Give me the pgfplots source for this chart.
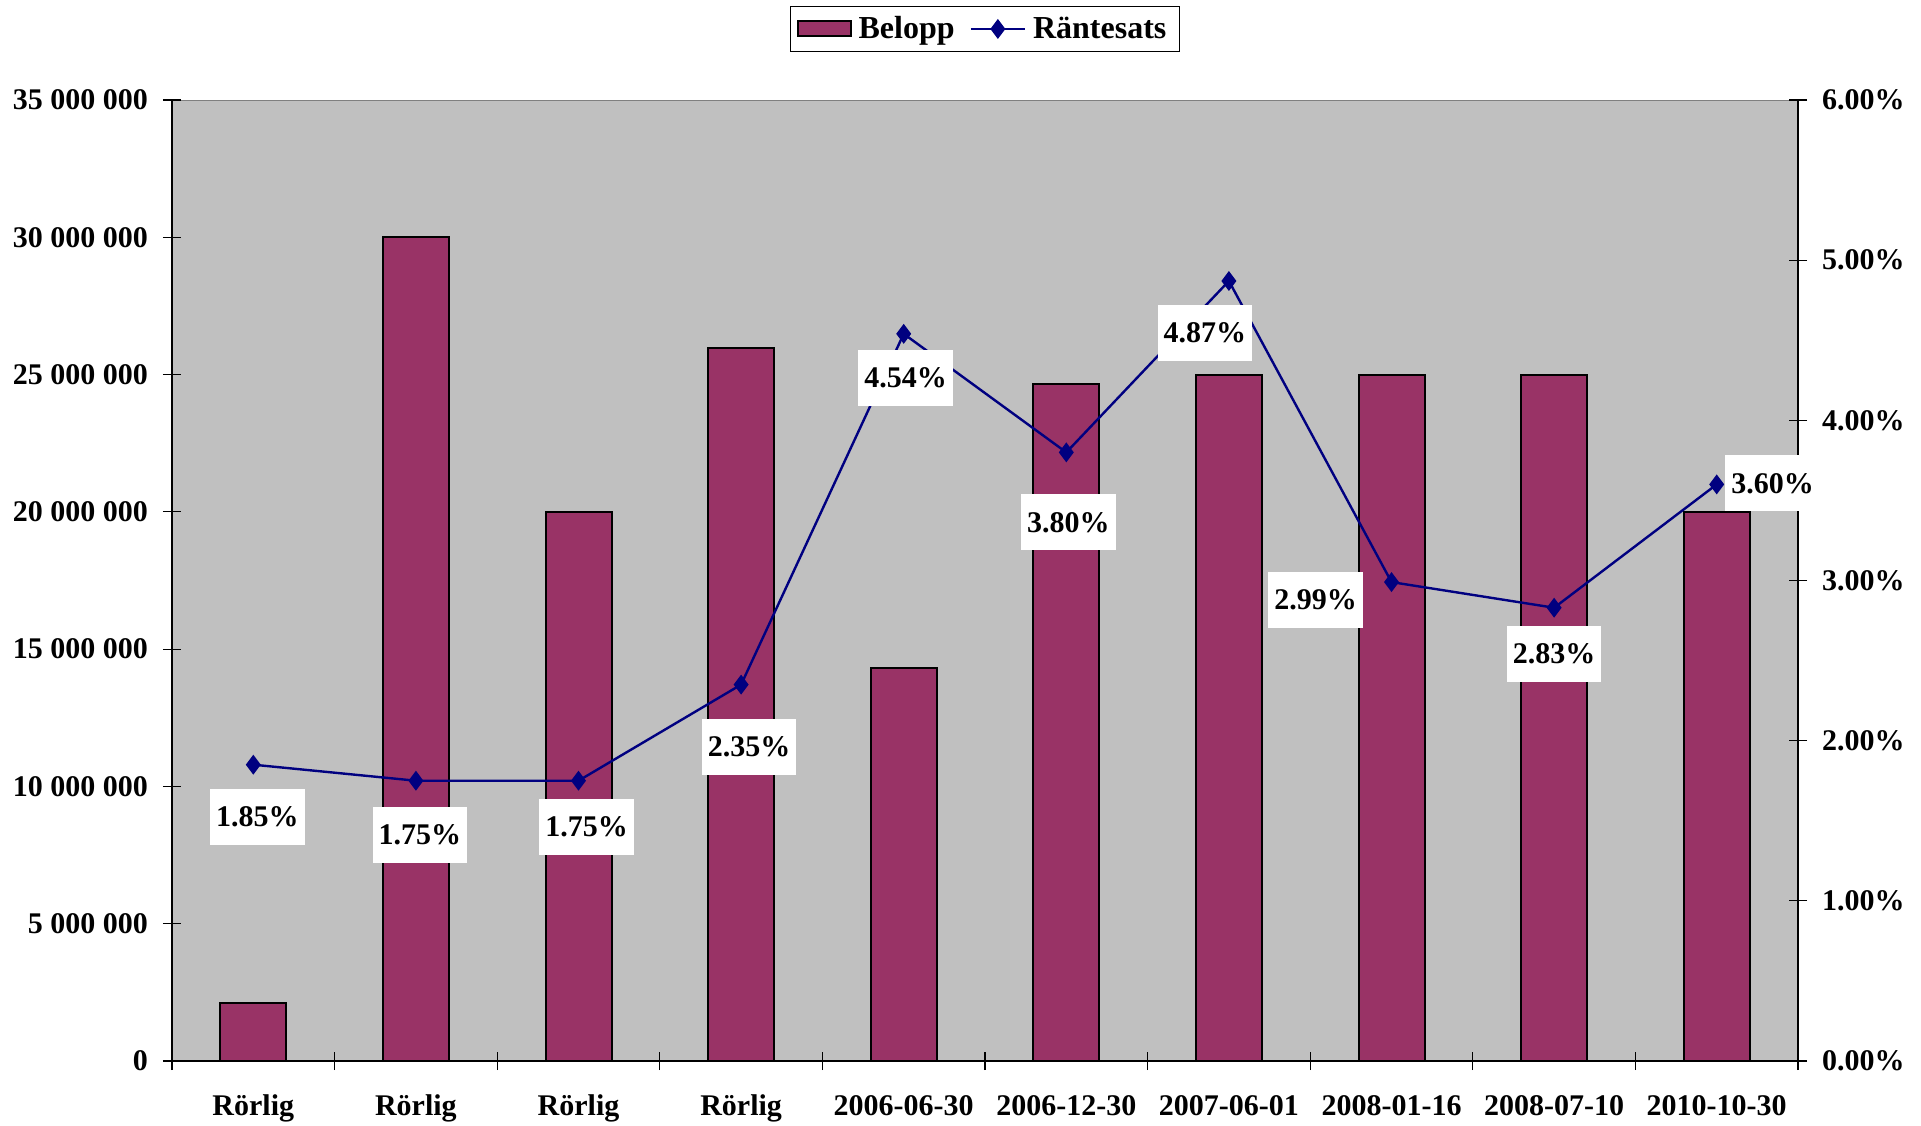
\documentclass[border=0pt]{standalone}
\usepackage{fontspec}
\setmainfont{Liberation Serif}
\usepackage{pgfplots}
\usepackage{pgfplotstable}
\pgfplotsset{compat=1.18}
\definecolor{plum}{HTML}{993366}
\definecolor{navyb}{HTML}{000080}
\definecolor{bggray}{HTML}{C0C0C0}

\pgfplotsset{
  barlegend/.style={legend image code/.code={\draw[##1] (0pt,-3.75pt) rectangle (26.5pt,3.75pt);}},
  linelegend/.style={legend image code/.code={\draw[##1, mark repeat=2, mark phase=2] plot coordinates {(0pt,0pt) (13.5pt,0pt) (27pt,0pt)};}},
}

\pgfplotstableread{
x y dx dy
0 1.85 2 -26
1 1.75 2 -27
2 1.75 4 -23
3 2.35 4 -31
4 4.54 1 -22
5 3.80 1 -35
6 4.87 -12 -26
7 2.99 -38 -9
8 2.83 0 -23
9 3.60 28 0.5
}\rates

\begin{document}
\begin{tikzpicture}
\useasboundingbox (0,0) rectangle (960.5pt,562.5pt);
\pgfplotsset{
  myaxis/.style={
    at={(86pt,32pt)}, anchor=south west, scale only axis,
    width=813pt, height=480.5pt,
    xmin=-0.5, xmax=9.5,
    tick label style={font=\fontsize{15}{18}\selectfont\bfseries},
    tick align=center, major tick length=9pt, minor tick length=9pt,
    tick style={black, line width=0.6pt},
    axis line style={black, line width=0.8pt},
    /pgf/number format/assume math mode=true,
  }
}
\begin{axis}[myaxis,
  ymin=0, ymax=35000000, ytick={0,5000000,10000000,15000000,20000000,25000000,30000000,35000000},
  axis x line*=bottom, axis y line*=left,
  axis background/.style={fill=bggray, draw=gray},
  xtick={0,...,9},
  xticklabels={Rörlig,Rörlig,Rörlig,Rörlig,2006-06-30,2006-12-30,2007-06-01,2008-01-16,2008-07-10,2010-10-30},
  major x tick style={draw=none},
  minor xtick={-0.5,0.5,1.5,2.5,3.5,4.5,5.5,6.5,7.5,8.5,9.5},
  xticklabel style={yshift=-9pt},
  scaled y ticks=false,
  yticklabel={\pgfmathprintnumber[fixed,precision=0,1000 sep={\ }]{\tick}},
  yticklabel style={xshift=-4pt},
  legend style={at={(0.5,1.0739)}, anchor=center, draw=black, fill=white,
    font=\fontsize{16}{19}\selectfont\bfseries, legend columns=2,
    inner xsep=3pt, inner ysep=3pt, nodes={inner xsep=3.5pt},
    /tikz/every even column/.append style={column sep=4pt}},
]
\addplot[ybar, bar width=33pt, fill=plum, draw=black, line width=1pt, barlegend]
  coordinates {(0,2100000) (1,30000000) (2,20000000) (3,25950000) (4,14300000)
               (5,24650000) (6,25000000) (7,25000000) (8,25000000) (9,20000000)};
\addlegendentry{Belopp}
\addlegendimage{navyb, line width=1.2pt, mark=diamond*, mark size=4pt, mark options={fill=navyb}, linelegend}
\addlegendentry{Räntesats}
\end{axis}
\begin{axis}[myaxis,
  ymin=0, ymax=6, ytick={0,1,2,3,4,5,6},
  axis y line*=right, axis x line=none,
  yticklabel={\pgfmathprintnumber[fixed,fixed zerofill,precision=2]{\tick}\%},
  yticklabel style={xshift=4pt},
]
\addplot[navyb, line width=1.2pt, mark=diamond*, mark size=4pt, mark options={fill=navyb},
  visualization depends on={\thisrow{dx} \as \dx},
  visualization depends on={\thisrow{dy} \as \dy},
  point meta=explicit, 
  nodes near coords={\pgfmathprintnumber[fixed,fixed zerofill,precision=2]{\pgfplotspointmeta}\%},
  every node near coord/.append style={anchor=center, xshift=\dx pt, yshift=\dy pt,
    fill=white, text=black, inner xsep=3pt, minimum height=28pt,
    font=\fontsize{15}{18}\selectfont\bfseries},
] table[x=x, y=y, meta=y] {\rates};
\end{axis}
\end{tikzpicture}
\end{document}
